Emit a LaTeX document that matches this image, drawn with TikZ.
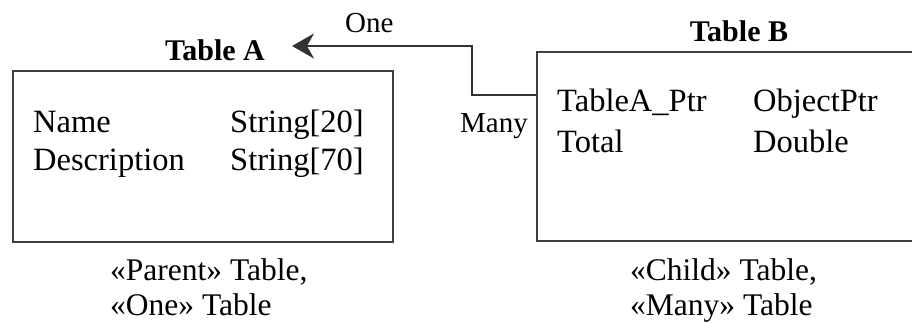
\documentclass[tikz,border=0pt]{standalone}
\usepackage{fontspec}
\setmainfont{Liberation Serif}
\usetikzlibrary{arrows.meta}
\begin{document}
\begin{tikzpicture}[x=1pt,y=-1pt,
  tbox/.style={draw=black!75,line width=2pt,rectangle,inner sep=0pt},
  txt/.style={inner sep=0pt,anchor=base west,font=\fontsize{32.5}{38}\selectfont},
  captxt/.style={inner sep=0pt,anchor=base west,font=\fontsize{31.5}{38}\selectfont},
  lbl/.style={inner sep=0pt,anchor=base west,font=\fontsize{29}{34}\selectfont},
  ttl/.style={inner sep=0pt,anchor=base,font=\fontsize{30}{36}\selectfont\bfseries},
  link/.style={draw=black!80,line width=2pt,-{Stealth[length=22pt,width=25pt,inset=7pt]}}]
\useasboundingbox (0,0) rectangle (912,322);
\clip (0,0) rectangle (912,322);
% Table A
\node[tbox,minimum width=380pt,minimum height=171pt] (boxA) at (203,156.5) {};
\node[ttl] (titleA) at (215,60) {Table A};
\node[txt] (a1) at (33,132) {Name};
\node[txt] (a2) at (230,132) {String[20]};
\node[txt] (a3) at (33,170) {Description};
\node[txt] (a4) at (230,170) {String[70]};
\node[captxt] (capA1) at (110,280) {«Parent» Table,};
\node[captxt] (capA2) at (110,315) {«One» Table};
% Table B
\node[tbox,minimum width=403pt,minimum height=189pt] (boxB) at (738.5,146.5) {};
\node[ttl] (titleB) at (739,41) {Table B};
\node[txt] (b1) at (557,111) {TableA\_Ptr};
\node[txt] (b2) at (753,111) {ObjectPtr};
\node[txt] (b3) at (557,152) {Total};
\node[txt] (b4) at (753,152) {Double};
\node[captxt] (capB1) at (630,280) {«Child» Table,};
\node[captxt] (capB2) at (630,315) {«Many» Table};
% connector
\coordinate (bport) at (boxB.west |- 0,95);
\coordinate (aend) at (292,46);
\draw[link] (bport) -- (472,95) -- (472,46) -- (aend);
\node[lbl] (one) at (345,32) {One};
\node[lbl] (many) at (460,132) {Many};
\end{tikzpicture}
\end{document}
